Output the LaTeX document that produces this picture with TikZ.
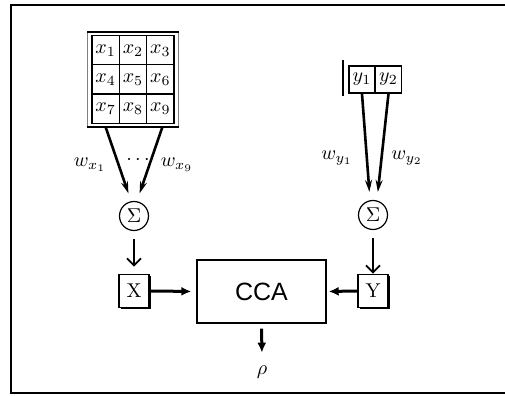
\documentclass[tikz,border=0pt]{standalone}
\usepackage{fontspec}
\newfontfamily\ccafont{Liberation Sans}
\usetikzlibrary{arrows.meta,shadows}

\tikzset{
  cell/.style={draw, line width=0.6pt, minimum width=13.7pt, minimum height=14.6pt, inner sep=0pt},
  ycell/.style={draw, line width=0.8pt, minimum width=13pt, minimum height=13.5pt, inner sep=0pt},
  sumnode/.style={circle, draw, line width=0.6pt, minimum size=14.5pt, inner sep=0pt},
  varbox/.style={draw, line width=0.9pt, fill=white, minimum width=15pt, minimum height=16.5pt, inner sep=0pt,
    drop shadow={shadow xshift=0.8pt, shadow yshift=-0.8pt, fill=black, opacity=1}},
  weight/.style={-{Stealth[length=6pt,width=3.5pt]}, line width=1.3pt, shorten >=4pt},
  down/.style={-{Straight Barb[length=3.5pt,width=7pt]}, line width=0.9pt},
  flow/.style={-{Latex[length=5pt,width=4.5pt]}, line width=1.5pt},
}

\begin{document}
\begin{tikzpicture}[x=0.5pt,y=-0.5pt]
        \useasboundingbox (0,0) rectangle (505,396);
        % frame, open on the right
        \draw[line width=1pt] (506,5) -- (11,5) -- (11,393) -- (506,393);

        % input grid
        \foreach \i/\cx/\cy in {1/105.7/50.3,2/133/50.3,3/160.3/50.3,
                                4/105.7/79.5,5/133/79.5,6/160.3/79.5,
                                7/105.7/108.7,8/133/108.7,9/160.3/108.7}
            \node[cell] (x\i) at (\cx,\cy) {$x_{\i}$};
        \draw[gray, line width=0.6pt] ([shift={(-2pt,1.7pt)}]x1.north west) rectangle ([shift={(2pt,-1.7pt)}]x9.south east);
        \draw[line width=1pt] ([shift={(-2pt,1.7pt)}]x1.north west) -- ([shift={(2pt,1.7pt)}]x3.north east);
        \draw[line width=1pt] ([shift={(-2pt,-1.7pt)}]x7.south west) -- ([shift={(2pt,-1.7pt)}]x9.south east);

        \node[ycell] (y1) at (362,79.5) {$y_1$};
        \node[ycell] (y2) at (388.5,79.5) {$y_2$};
        \draw[line width=0.8pt] ([shift={(-2.5pt,2.5pt)}]y1.north west) -- ([shift={(-2.5pt,-1pt)}]y1.south west);

        \node[sumnode] (sumx) at (134,216) {$\Sigma$};
        \node[sumnode] (sumy) at (373,215) {$\Sigma$};

        \draw[weight] ([yshift=-1.7pt]x7.south) -- ([xshift=-1.5pt]sumx.north);
        \draw[weight] ([shift={(1pt,-1.7pt)}]x9.south) -- ([xshift=1.5pt]sumx.north);
        \draw[weight] (y1.south) -- ([xshift=-1.5pt]sumy.north);
        \draw[weight] (y2.south) -- ([xshift=2pt]sumy.north);

        \node (wx1) at (90,165) {$w_{x_1}$};
        \node (dots) at (138,160) {$\cdots$};
        \node (wx9) at (177,165) {$w_{x_9}$};
        \node (wy1) at (337,158) {$w_{y_1}$};
        \node (wy2) at (407,158) {$w_{y_2}$};

        \node[varbox] (X) at (134,291) {X};
        \node[varbox] (Y) at (373,291) {Y};
        \node[draw, line width=0.7pt, minimum width=64.5pt, minimum height=31.5pt] (cca) at (261.5,291.5)
            {\ccafont\fontsize{12.5}{14}\selectfont CCA};
        \node (rho) at (262,372) {$\rho$};

        \draw[down, shorten <=4pt, shorten >=3.5pt] (sumx.south) -- (X.north);
        \draw[down, shorten <=4pt] (sumy.south) -- (Y.north);
        \draw[flow, shorten >=2.5pt] (X.east) -- (cca.west);
        \draw[flow, shorten >=1pt] (Y.west) -- (cca.east);
        \draw[flow, shorten <=2.5pt, shorten >=3pt] (cca.south) -- (rho.north);
    \end{tikzpicture}
\end{document}
